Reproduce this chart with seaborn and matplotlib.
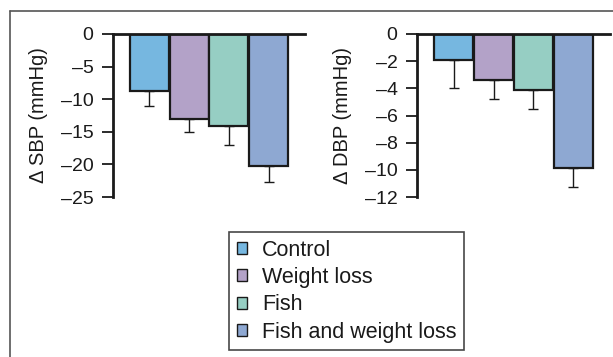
"""
plot.py
-------
Change in SBP / DBP by intervention group, two bar panels with a shared legend.
"""

import matplotlib
matplotlib.use("Agg")
import matplotlib.pyplot as plt
from matplotlib.patches import Patch
from matplotlib.lines import Line2D
import pandas as pd
import seaborn as sns

# Data
groups = ["Control", "Weight loss", "Fish", "Fish and weight loss"]
sbp_mean = [-8.8, -13.0, -14.1, -20.2]
sbp_err = [2.2, 2.1, 2.9, 2.5]
dbp_mean = [-1.9, -3.4, -4.1, -9.85]
dbp_err = [2.1, 1.35, 1.4, 1.45]
colors = ["#76B7E0", "#B3A2C8", "#96CEC3", "#8EA8D2"]

sns.set_theme(style="white")
plt.rcParams["font.family"] = ["Liberation Sans", "DejaVu Sans"]

df = pd.DataFrame({"group": groups, "sbp": sbp_mean, "dbp": dbp_mean,
                   "sbp_err": sbp_err, "dbp_err": dbp_err})

W, H = 613, 357
fig = plt.figure(figsize=(W / 100, H / 100), dpi=100)
INK = "#1a1a1a"


def panel(rect, col, err_col, ylim, yticks, ylabel):
    ax = fig.add_axes(rect)
    sns.barplot(data=df, x="group", y=col, hue="group", palette=colors,
                saturation=1, width=0.98, edgecolor=INK, linewidth=1.6,
                errorbar=None, legend=False, ax=ax)
    ax.errorbar(range(len(groups)), df[col],
                yerr=[df[err_col], [0] * len(groups)],
                fmt="none", ecolor=INK, elinewidth=1.0,
                capsize=3.5, capthick=1.0, zorder=1)
    ax.set_xlim(-0.92, 3.92)
    ax.set_ylim(*ylim)
    ax.set_yticks(yticks)
    ax.set_yticklabels([f"{t:g}".replace("-", "\u2013") for t in yticks])
    ax.set_xticks([])
    ax.set_xlabel("")
    ax.set_ylabel(ylabel, fontsize=14.5, labelpad=9)
    for s in ["bottom", "right"]:
        ax.spines[s].set_visible(False)
    for s in ["left", "top"]:
        ax.spines[s].set_visible(True)
        ax.spines[s].set_color(INK)
        ax.spines[s].set_linewidth(2.0)
    ax.tick_params(axis="y", left=True, direction="out", length=8,
                   width=1.3, color=INK, labelsize=14, labelcolor=INK, pad=6)
    ax.yaxis.label.set_color(INK)
    ax.set_facecolor("none")
    return ax


top = 1 - 34 / H
bot = 1 - 197 / H
panel([113 / W, bot, 192 / W, top - bot], "sbp", "sbp_err",
      (-25, 0), [0, -5, -10, -15, -20, -25], "\u0394 SBP (mmHg)")
panel([417 / W, bot, 193 / W, top - bot], "dbp", "dbp_err",
      (-12, 0), [0, -2, -4, -6, -8, -10, -12], "\u0394 DBP (mmHg)")

# outer frame (top and left only)
fig.add_artist(Line2D([10 / W, 1.0], [1 - 11 / H] * 2, transform=fig.transFigure,
                      color="#555555", lw=1.2))
fig.add_artist(Line2D([10 / W] * 2, [0, 1 - 11 / H], transform=fig.transFigure,
                      color="#555555", lw=1.2))

handles = [Patch(facecolor=c, edgecolor=INK, linewidth=1.0) for c in colors]
leg = fig.legend(handles, groups, loc="upper left",
                 bbox_to_anchor=(229 / W, 1 - 232 / H), bbox_transform=fig.transFigure,
                 fontsize=15.5, frameon=True, fancybox=False, borderaxespad=0,
                 handlelength=0.5, handleheight=0.5, handletextpad=0.7,
                 labelspacing=0.3, borderpad=0.35)
leg.get_frame().set_edgecolor(INK)
leg.get_frame().set_linewidth(1.2)
for t in leg.get_texts():
    t.set_color(INK)

fig.savefig("out.png", dpi=100, facecolor="white")
